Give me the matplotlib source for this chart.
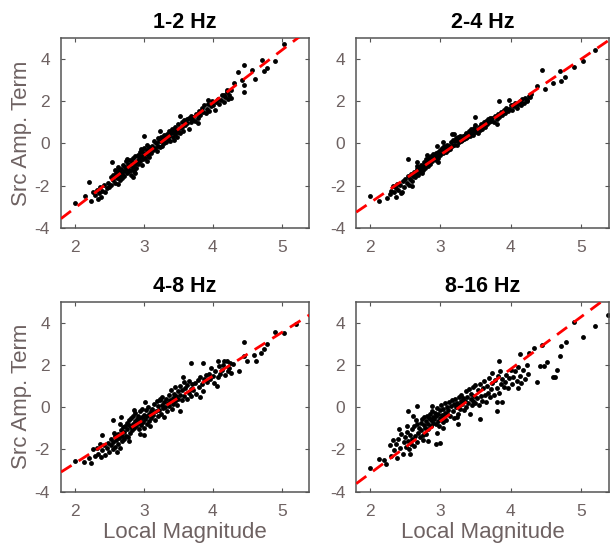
import matplotlib
matplotlib.use("Agg")
import matplotlib.pyplot as plt
import numpy as np

plt.rcParams['font.family'] = ['Liberation Sans', 'DejaVu Sans']
plt.rcParams['axes.unicode_minus'] = False

titles = ["1-2 Hz", "2-4 Hz", "4-8 Hz", "8-16 Hz"]

# fitted lines (slope, intercept)
fits = [(2.49, -8.04), (2.26, -7.32), (2.07, -6.80), (2.47, -8.07)]

# 1-2 Hz
ml_1 = [2.30, 2.32, 2.35, 2.37, 2.40, 2.42, 2.44, 2.46, 2.48, 2.50, 2.38, 2.27,
        2.52, 2.53, 2.55, 2.56, 2.58, 2.60, 2.61, 2.62, 2.63, 2.65, 2.66, 2.67, 2.68, 2.69, 2.70, 2.62, 2.58, 2.66,
        2.71, 2.72, 2.73, 2.74, 2.75, 2.76, 2.77, 2.78, 2.79, 2.80, 2.81, 2.82, 2.83, 2.84, 2.85, 2.86, 2.87, 2.88, 2.89, 2.90, 2.76, 2.88,
        2.91, 2.92, 2.93, 2.94, 2.95, 2.96, 2.97, 2.98, 2.99, 3.00, 3.01, 3.02, 3.03, 3.04, 3.05, 3.06, 3.07, 3.08, 3.09, 3.10, 2.96, 3.04,
        3.11, 3.12, 3.14, 3.15, 3.16, 3.18, 3.19, 3.20, 3.21, 3.22, 3.24, 3.25, 3.26, 3.27, 3.28, 3.29, 3.30, 3.23,
        3.31, 3.32, 3.33, 3.35, 3.36, 3.37, 3.38, 3.40, 3.41, 3.42, 3.43, 3.44, 3.45, 3.46, 3.47, 3.48, 3.49, 3.50,
        3.52, 3.53, 3.55, 3.56, 3.57, 3.59, 3.60, 3.62, 3.63, 3.65, 3.66, 3.68, 3.69, 3.70,
        3.72, 3.74, 3.76, 3.78, 3.80, 3.82, 3.84, 3.86, 3.88, 3.90,
        3.91, 3.93, 3.95, 3.97, 3.99, 4.01, 4.03, 4.05, 4.07, 4.09,
        4.12, 4.14, 4.16, 4.18, 4.20, 4.22, 4.24, 4.27,
        2.00, 2.20, 2.15, 2.23, 2.33, 2.54, 3.00, 2.85, 3.52, 3.79, 3.93, 4.36, 4.45, 4.45,
        4.46, 4.43, 4.57, 4.62, 4.72, 4.74, 4.79, 4.90, 5.03, 4.31, 4.21, 4.26, 4.16]
amp_1 = [-2.45, -2.20, -2.35, -2.05, -2.25, -1.95, -2.30, -2.10, -1.85, -2.05, -2.55, -2.30,
         -1.60, -1.95, -1.75, -1.50, -1.85, -1.40, -1.65, -1.90, -1.30, -1.55, -1.75, -1.20, -1.45, -1.65, -1.00, -1.10, -1.25, -1.35,
         -1.30, -1.55, -1.10, -0.85, -1.40, -1.20, -0.95, -1.30, -1.05, -0.80, -1.25, -1.50, -0.90, -1.10, -0.70, -1.30, -0.95, -0.60, -1.15, -0.85, -0.75, -1.40,
         -0.55, -0.95, -0.70, -0.40, -0.85, -0.60, -1.00, -0.35, -0.75, -0.50, -0.20, -0.70, -0.45, -0.85, -0.30, -0.55, -0.15, -0.65, -0.40, -0.20, -0.25, -0.05,
         -0.45, -0.10, -0.30, 0.10, -0.20, 0.00, -0.35, 0.25, -0.10, 0.10, -0.15, 0.30, 0.05, -0.10, 0.20, 0.40, 0.00, 0.60,
         0.30, 0.05, 0.45, 0.20, 0.60, 0.35, 0.10, 0.50, 0.70, 0.30, 0.55, 0.15, 0.80, 0.45, 0.65, 0.30, 0.90, 0.55,
         0.75, 0.50, 1.00, 0.80, 0.60, 1.10, 0.85, 1.15, 0.95, 0.70, 1.20, 1.00, 1.30, 1.10,
         1.25, 1.05, 1.40, 1.20, 1.55, 1.35, 1.70, 1.50, 1.80, 1.45,
         1.65, 1.85, 1.55, 1.75, 2.00, 1.80, 1.60, 1.95, 2.10, 1.85,
         2.05, 2.30, 1.95, 2.20, 2.45, 2.10, 2.30, 2.55,
         -2.84, -1.81, -2.50, -2.70, -2.63, -0.90, 0.34, -1.60, 1.30, 0.97, 2.06, 3.39, 3.70, 2.77,
         2.45, 3.00, 3.47, 3.03, 3.94, 3.42, 3.55, 3.90, 4.72, 2.84, 2.53, 2.14, 2.30]

# 2-4 Hz
ml_2 = [2.30, 2.32, 2.34, 2.36, 2.38, 2.40, 2.42, 2.44, 2.46, 2.48, 2.50, 2.28,
        2.52, 2.54, 2.55, 2.57, 2.58, 2.60, 2.61, 2.63, 2.64, 2.65, 2.67, 2.68, 2.69, 2.70, 2.59, 2.66,
        2.71, 2.72, 2.73, 2.75, 2.76, 2.77, 2.78, 2.79, 2.80, 2.82, 2.83, 2.84, 2.85, 2.86, 2.87, 2.88, 2.89, 2.90, 2.74, 2.81,
        2.91, 2.92, 2.93, 2.94, 2.95, 2.96, 2.97, 2.98, 2.99, 3.00, 3.01, 3.02, 3.03, 3.04, 3.05, 3.06, 3.07, 3.08, 3.09, 3.10, 2.97, 3.03,
        3.11, 3.12, 3.14, 3.15, 3.16, 3.18, 3.19, 3.21, 3.22, 3.23, 3.24, 3.25, 3.26, 3.27, 3.28, 3.29, 3.30, 3.17,
        3.31, 3.32, 3.33, 3.35, 3.36, 3.37, 3.38, 3.40, 3.41, 3.42, 3.43, 3.44, 3.45, 3.46, 3.47, 3.48, 3.49, 3.50,
        3.52, 3.53, 3.55, 3.56, 3.58, 3.59, 3.60, 3.62, 3.63, 3.65, 3.66, 3.68, 3.69, 3.70,
        3.72, 3.74, 3.76, 3.78, 3.80, 3.82, 3.84, 3.86, 3.88, 3.90,
        3.92, 3.94, 3.96, 3.98, 4.00, 4.02, 4.05, 4.07, 4.09, 4.11,
        4.13, 4.15, 4.17, 4.19, 4.21, 4.24, 4.26, 4.29,
        2.00, 2.13, 2.24, 2.37, 2.45, 2.54, 2.67, 2.95, 3.20, 3.50, 3.80, 3.84, 4.45, 4.49,
        4.37, 4.61, 4.70, 4.72, 4.78, 5.03, 4.91, 5.21, 4.28, 4.23, 4.14, 4.04, 3.98]
amp_2 = [-2.25, -2.00, -2.30, -2.10, -1.90, -2.20, -1.95, -2.35, -1.80, -2.05, -1.70, -2.40,
         -1.85, -1.55, -1.95, -1.70, -1.45, -1.80, -1.55, -1.35, -1.60, -1.40, -1.20, -1.50, -1.30, -1.10, -2.00, -1.05,
         -1.35, -1.15, -1.00, -1.25, -1.05, -0.90, -1.15, -0.95, -0.75, -1.05, -0.85, -0.70, -0.95, -0.80, -0.60, -0.85, -0.70, -0.50, -1.40, -0.55,
         -0.75, -0.60, -0.45, -0.80, -0.60, -0.40, -0.70, -0.50, -0.30, -0.55, -0.40, -0.20, -0.45, -0.30, -0.10, -0.35, -0.20, -0.40, -0.15, -0.05, -0.90, 0.05,
         -0.30, -0.10, -0.25, 0.05, -0.10, 0.15, -0.05, 0.10, 0.25, -0.05, 0.15, 0.30, 0.05, 0.20, 0.35, 0.10, 0.25, 0.45,
         0.15, 0.35, 0.20, 0.40, 0.25, 0.50, 0.30, 0.45, 0.60, 0.35, 0.55, 0.70, 0.45, 0.60, 0.40, 0.75, 0.55, 0.85,
         0.65, 0.50, 0.80, 0.65, 0.90, 0.70, 0.85, 1.00, 0.80, 1.05, 0.90, 1.15, 1.00, 1.20,
         1.05, 1.20, 1.00, 1.30, 1.15, 1.40, 1.25, 1.50, 1.35, 1.60,
         1.45, 1.70, 1.55, 1.65, 1.80, 1.60, 1.75, 1.90, 1.70, 1.85,
         2.00, 1.80, 2.10, 1.90, 2.15, 2.00, 2.25, 2.35,
         -2.47, -2.70, -2.60, -2.55, -2.30, -0.75, -0.86, -0.13, 0.45, 1.23, 0.94, 2.00, 3.50, 2.56,
         2.72, 2.84, 3.42, 2.95, 3.16, 3.90, 3.62, 4.40, 2.22, 2.06, 1.98, 1.83, 2.06]

# 4-8 Hz
ml_3 = [2.30, 2.32, 2.34, 2.36, 2.38, 2.40, 2.42, 2.44, 2.46, 2.48, 2.50, 2.27,
        2.52, 2.53, 2.55, 2.56, 2.58, 2.59, 2.60, 2.62, 2.63, 2.64, 2.65, 2.67, 2.68, 2.69, 2.70, 2.61, 2.57, 2.66,
        2.71, 2.72, 2.73, 2.74, 2.75, 2.76, 2.77, 2.78, 2.79, 2.80, 2.81, 2.82, 2.83, 2.84, 2.85, 2.86, 2.87, 2.88, 2.89, 2.90, 2.78, 2.86,
        2.91, 2.92, 2.93, 2.94, 2.95, 2.96, 2.97, 2.98, 2.99, 3.00, 3.01, 3.02, 3.03, 3.04, 3.05, 3.06, 3.07, 3.08, 3.09, 3.10, 2.94, 3.02,
        3.11, 3.12, 3.14, 3.15, 3.16, 3.18, 3.19, 3.20, 3.21, 3.22, 3.24, 3.25, 3.26, 3.27, 3.28, 3.29, 3.30, 3.23,
        3.31, 3.32, 3.33, 3.35, 3.36, 3.37, 3.38, 3.40, 3.41, 3.42, 3.43, 3.44, 3.45, 3.46, 3.47, 3.48, 3.49, 3.50,
        3.52, 3.53, 3.55, 3.56, 3.58, 3.59, 3.60, 3.62, 3.63, 3.65, 3.66, 3.68, 3.69, 3.70,
        3.72, 3.74, 3.76, 3.78, 3.80, 3.82, 3.84, 3.86, 3.88, 3.90,
        3.92, 3.94, 3.96, 3.98, 4.00, 4.02, 4.04, 4.07, 4.09, 4.11,
        4.13, 4.15, 4.18, 4.20, 4.23, 4.25, 4.27,
        2.00, 2.13, 2.23, 2.20, 2.40, 2.55, 2.67, 3.00, 3.68, 3.86, 3.57, 3.81, 3.53, 4.06, 4.22,
        4.29, 4.38, 4.46, 4.45, 4.50, 4.63, 4.60, 4.70, 4.75, 4.78, 4.91, 5.03, 5.21, 4.17, 4.08]
amp_3 = [-2.30, -1.95, -2.20, -1.75, -2.35, -2.05, -1.80, -2.25, -1.95, -1.70, -2.10, -2.00,
         -1.80, -1.50, -2.00, -1.65, -1.35, -1.90, -1.55, -1.25, -1.75, -1.45, -1.95, -1.10, -1.60, -1.35, -0.95, -2.10, -1.20, -0.80,
         -1.50, -1.15, -0.90, -1.35, -0.75, -1.05, -1.40, -0.85, -0.60, -1.20, -0.95, -0.50, -1.10, -0.80, -0.40, -1.00, -0.65, -0.25, -0.90, -0.55, -1.60, -0.15,
         -0.75, -0.40, -1.05, -0.55, -0.20, -0.85, -0.45, -0.10, -0.70, -0.35, -1.00, -0.55, -0.15, -0.80, -0.40, 0.00, -0.65, -0.30, -0.90, -0.20, -1.25, 0.25,
         -0.50, -0.10, -0.35, 0.15, -0.60, -0.20, 0.30, -0.40, 0.05, -0.15, 0.40, -0.30, 0.10, 0.50, -0.05, 0.25, -0.45, 0.35,
         0.00, 0.40, -0.20, 0.20, 0.60, 0.05, 0.35, 0.80, -0.10, 0.45, 0.15, 0.65, 0.95, 0.30, 0.55, 0.10, 0.75, 0.40,
         0.60, 1.00, 0.35, 0.80, 1.20, 0.55, 0.90, 0.40, 1.05, 0.70, 1.25, 0.85, 0.55, 1.10,
         0.80, 1.15, 0.65, 1.30, 0.95, 1.45, 1.10, 0.75, 1.35, 1.55,
         1.20, 1.60, 1.35, 1.85, 1.50, 1.15, 1.70, 1.45, 1.95, 1.60,
         1.75, 2.00, 1.55, 2.20, 1.85, 2.10, 1.65,
         -2.55, -2.60, -2.65, -2.40, -1.30, -0.60, -0.45, -1.30, 2.10, 2.10, 1.45, 0.47, -0.16, 1.02, 1.73,
         2.05, 1.70, 3.10, 2.44, 2.20, 2.20, 2.49, 2.60, 2.76, 3.00, 3.59, 3.54, 3.97, 2.20, 2.20]

# 8-16 Hz
ml_4 = [2.28, 2.30, 2.32, 2.34, 2.36, 2.38, 2.40, 2.42, 2.44, 2.46, 2.48, 2.50,
        2.51, 2.52, 2.54, 2.55, 2.56, 2.58, 2.59, 2.60, 2.62, 2.63, 2.64, 2.66, 2.67, 2.68, 2.70, 2.57, 2.65,
        2.71, 2.72, 2.73, 2.74, 2.75, 2.76, 2.77, 2.78, 2.79, 2.80, 2.81, 2.82, 2.83, 2.84, 2.85, 2.86, 2.87, 2.88, 2.89, 2.90, 2.75, 2.83, 2.88,
        2.91, 2.92, 2.93, 2.94, 2.95, 2.96, 2.97, 2.98, 2.99, 3.00, 3.01, 3.02, 3.03, 3.04, 3.05, 3.06, 3.07, 3.08, 3.09, 3.10, 2.95, 3.03,
        3.11, 3.12, 3.14, 3.15, 3.16, 3.18, 3.19, 3.20, 3.21, 3.22, 3.24, 3.25, 3.26, 3.27, 3.28, 3.29, 3.30, 3.23,
        3.31, 3.32, 3.33, 3.35, 3.36, 3.37, 3.38, 3.40, 3.41, 3.42, 3.43, 3.44, 3.45, 3.46, 3.47, 3.48, 3.49, 3.50,
        3.52, 3.53, 3.55, 3.56, 3.58, 3.59, 3.60, 3.62, 3.63, 3.65, 3.66, 3.68, 3.69, 3.70,
        3.72, 3.74, 3.76, 3.78, 3.80, 3.82, 3.84, 3.86, 3.88, 3.90,
        3.92, 3.94, 3.96, 3.98, 4.00, 4.02, 4.04, 4.07, 4.09, 4.11,
        4.13, 4.15, 4.18, 4.20, 4.23, 4.25,
        2.00, 2.12, 2.19, 2.23, 2.54, 2.66, 2.61, 2.41, 2.53, 2.93, 2.99, 3.25, 3.57, 3.80, 3.88, 3.80,
        3.84, 4.14, 4.33, 4.45, 4.37, 4.64, 4.61, 4.47, 4.52, 4.42, 4.71, 4.72, 4.79, 4.90, 5.03, 5.20,
        5.39, 4.66, 4.10, 4.26, 3.85, 3.73]
amp_4 = [-1.80, -2.30, -1.55, -2.05, -1.75, -2.40, -1.50, -1.95, -1.25, -2.20, -1.65, -1.40,
         -1.90, -1.15, -1.60, -2.00, -1.30, -1.75, -1.05, -1.50, -1.85, -0.90, -1.35, -1.65, -0.80, -1.20, -1.00, -2.20, -0.60,
         -1.40, -0.75, -1.10, -0.55, -1.30, -0.85, -0.45, -1.00, -0.65, -1.25, -0.40, -0.80, -1.05, -0.50, -0.30, -0.90, -0.60, -0.20, -0.75, -0.45, -1.55, -1.60, 0.05,
         -0.55, -0.25, -0.80, -0.40, -0.05, -0.65, -0.30, -0.90, -0.15, -0.50, 0.10, -0.35, -0.70, -0.10, -0.45, 0.20, -0.25, -0.60, 0.00, -0.30, -1.20, -1.00,
         -0.15, 0.25, -0.40, 0.05, 0.35, -0.20, 0.15, -0.50, 0.40, 0.00, 0.20, -0.30, 0.50, 0.10, -0.10, 0.30, 0.60, -0.45,
         0.15, 0.45, -0.15, 0.30, 0.75, 0.00, 0.50, 0.20, 0.85, -0.30, 0.40, 0.65, 0.10, 0.95, 0.30, 0.55, 1.05, 0.20,
         0.45, 0.80, 0.10, 1.10, 0.55, 0.30, 0.90, 1.25, 0.60, 0.25, 1.00, 0.70, 1.40, 0.50,
         0.85, 1.15, 0.60, 1.30, 0.90, 1.50, 0.70, 1.10, 1.35, 0.95,
         1.20, 1.55, 0.90, 1.40, 1.75, 1.10, 1.45, 1.70, 1.25, 1.90,
         1.50, 1.15, 1.75, 1.35, 2.00, 1.60,
         -2.88, -2.47, -2.52, -2.68, -0.16, 0.08, -0.43, -1.04, -0.90, -1.73, -1.70, -0.79, -0.55, -0.20, 0.27, 0.27,
         2.20, 2.55, 2.83, 2.96, 1.18, 1.42, 1.42, 1.97, 2.13, 1.97, 2.44, 2.91, 3.12, 4.06, 3.35, 3.86,
         4.36, 1.78, 0.91, 2.60, 1.73, 1.62]

mags = [ml_1, ml_2, ml_3, ml_4]
amps = [amp_1, amp_2, amp_3, amp_4]

# axes boxes in figure fractions [left, bottom, width, height]
boxes = [[0.100, 0.584, 0.407, 0.347],
         [0.584, 0.584, 0.414, 0.347],
         [0.100, 0.103, 0.407, 0.346],
         [0.584, 0.103, 0.414, 0.346]]

label_col = '#6e6262'
spine_col = '#555555'

fig = plt.figure(figsize=(6.1, 5.48), dpi=100)
for i in range(4):
    ax = fig.add_axes(boxes[i])
    ax.plot(mags[i], amps[i], 'o', color='black', markersize=3.5,
            markeredgewidth=0, zorder=2)
    xl = np.array([1.8, 5.4])
    ax.plot(xl, np.polyval(fits[i], xl), '--', color='red', linewidth=2.0,
            dashes=(4.5, 3), zorder=3)
    ax.set_xlim(1.8, 5.4)
    ax.set_ylim(-4, 5)
    ax.set_xticks([2, 3, 4, 5])
    ax.set_yticks([-4, -2, 0, 2, 4])
    ax.tick_params(direction='in', top=True, right=True, length=3,
                   width=0.8, color=spine_col, labelcolor=label_col,
                   labelsize=12.5)
    ax.tick_params(axis='x', pad=9)
    ax.tick_params(axis='y', pad=8)
    for s in ax.spines.values():
        s.set_color(spine_col)
        s.set_linewidth(1.1)
    ax.set_title(titles[i], fontsize=15.5, fontweight='bold', pad=7)
    if i % 2 == 0:
        ax.set_ylabel('Src Amp. Term', fontsize=16, color=label_col, labelpad=2)
    if i >= 2:
        ax.set_xlabel('Local Magnitude', fontsize=16, color=label_col, labelpad=2)

fig.savefig('out.png', dpi=100)
